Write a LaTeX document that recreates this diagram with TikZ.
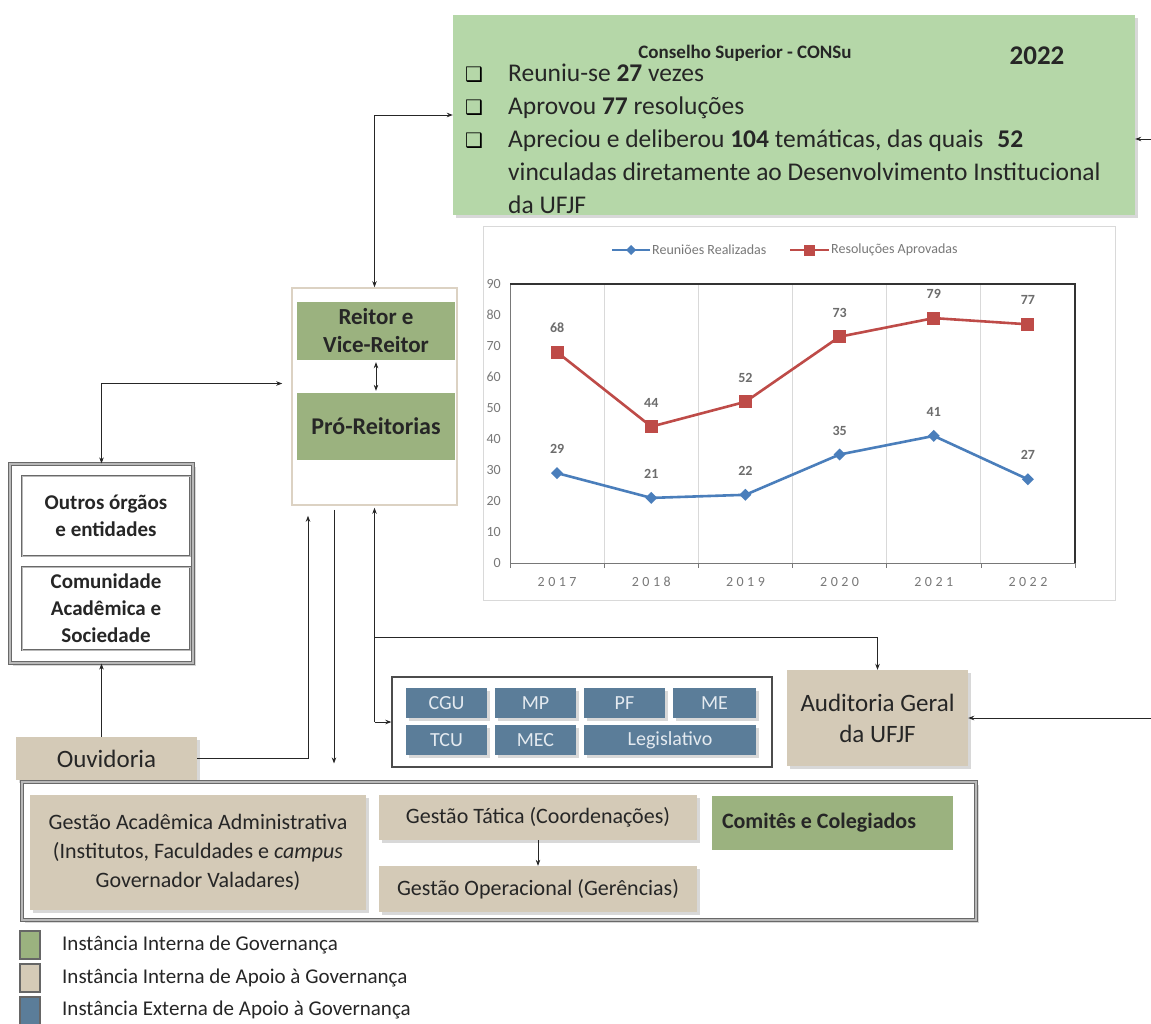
\documentclass[tikz,border=0pt]{standalone}
\usepackage{fontspec}
\setmainfont{Carlito}
\newfontfamily\dejavu{DejaVu Sans}
\newfontfamily\spaced{Carlito}[LetterSpace=25]
\usetikzlibrary{arrows.meta,fit,shadows}
\definecolor{consu}{RGB}{181,215,168}
\definecolor{olive}{RGB}{155,178,127}
\definecolor{tanc}{RGB}{212,202,183}
\definecolor{extblue}{RGB}{91,125,153}
\definecolor{extext}{RGB}{228,234,240}
\definecolor{lineblue}{RGB}{74,126,187}
\definecolor{linered}{RGB}{190,75,72}
\definecolor{txt}{RGB}{38,38,38}
\definecolor{axgray}{RGB}{120,120,120}
\definecolor{gridgray}{RGB}{217,217,217}
\definecolor{framegray}{RGB}{105,105,105}
\definecolor{frameinner}{RGB}{185,185,185}
\definecolor{reitorframe}{RGB}{220,210,195}
\tikzset{
  bx/.style={inner sep=0pt, text=txt, align=center},
  shad/.style={drop shadow={shadow xshift=2.5pt, shadow yshift=-2.5pt, opacity=0.3}},
  consubox/.style={bx, fill=consu, shad},
  olivebox/.style={bx, fill=olive},
  tanbox/.style={bx, fill=tanc, shad},
  extbox/.style={bx, fill=extblue, shad},
  grayframe/.style={bx, draw=framegray, line width=1.2pt, double=frameinner, double distance=1.6pt, fill=white, shad},
  innerframe/.style={bx, draw=framegray, line width=0.9pt, double=frameinner, double distance=0.8pt, fill=white},
  arr/.style={-{Stealth[length=6pt,width=4.5pt]}, line width=0.8pt, draw=black!85},
  darr/.style={{Stealth[length=6pt,width=4.5pt]}-{Stealth[length=6pt,width=4.5pt]}, line width=0.8pt, draw=black!85},
  bodytxt/.style={inner sep=0pt, text=txt, anchor=base west, font=\fontsize{25.5}{30}\selectfont},
  chk/.style={inner sep=0pt, text=black, anchor=base west, font=\dejavu\fontsize{20}{22}\selectfont},
  ticklab/.style={inner sep=0pt, text=axgray, font=\fontsize{14}{16}\selectfont},
  datalab/.style={inner sep=0pt, text=axgray!90!black, font=\bfseries\fontsize{14}{16}\selectfont},
  legtxt/.style={inner sep=0pt, text=txt, anchor=west, font=\fontsize{21}{24}\selectfont},
  boldlab/.style={inner sep=0pt, text=txt, align=center, font=\bfseries\fontsize{21}{27}\selectfont},
  gestlab/.style={inner sep=0pt, text=txt, align=center, font=\fontsize{22}{29}\selectfont},
}
\begin{document}
\begin{tikzpicture}[x=1pt,y=-1pt]
\useasboundingbox[fill=white] (0,0) rectangle (1151,1023);

% ---------------- CONSu box
\node[consubox, fit={(453,15)(1135,215)}] (consu) {};
\node[inner sep=0pt, text=txt, font=\bfseries\fontsize{19}{22}\selectfont] (ctitle) at (745,53) {Conselho Superior - CONSu};
\node[inner sep=0pt, text=txt, font=\bfseries\fontsize{27}{30}\selectfont] (cyear) at (1037,56) {2022};
\node[chk] (cb1) at (465,81) {❑};
\node[chk] (cb2) at (465,114) {❑};
\node[chk] (cb3) at (465,147) {❑};
\node[bodytxt] (l1) at (508,81) {Reuniu-se \textbf{27} vezes};
\node[bodytxt] (l2) at (508,114) {Aprovou \textbf{77} resoluções};
\node[bodytxt] (l3) at (508,147) {Apreciou e deliberou \textbf{104} temáticas, das quais\hspace{14pt}\textbf{52}};
\node[bodytxt] (l4) at (508,180) {vinculadas diretamente ao Desenvolvimento Institucional};
\node[bodytxt] (l5) at (508,213) {da UFJF};
\coordinate (rin1) at (1151,139);
\draw[arr] (rin1) -- (consu.east |- rin1);

% ---------------- Chart
\draw[gridgray, fill=white, line width=0.8pt] (483,226) rectangle (1115,600);
% legend
\draw[lineblue, line width=2.2pt] (612,250) -- (650,250);
\fill[lineblue] (631,245) -- (636,250) -- (631,255) -- (626,250) -- cycle;
\node[inner sep=0pt, anchor=west, text=axgray, font=\fontsize{14}{16}\selectfont] (lg1) at (652,250) {Reuniões Realizadas};
\draw[linered, line width=2.2pt] (790,250) -- (829,250);
\fill[linered] (803.5,244.5) rectangle (814.5,255.5);
\node[inner sep=0pt, anchor=west, text=axgray, font=\fontsize{14}{16}\selectfont] (lg2) at (831,250) {Resoluções Aprovadas};
% grid
\foreach \gx in {604.2,698.3,792.5,886.7,980.8} {
  \draw[gridgray, line width=0.8pt] (\gx,284) -- (\gx,563);
  \draw[axgray, line width=0.6pt] (\gx,563) -- (\gx,568);
}
\draw[axgray, line width=0.6pt] (510,563) -- (510,568);
\draw[axgray, line width=0.6pt] (1075,563) -- (1075,568);
\draw[axgray, line width=0.8pt] (510,284) -- (510,563) -- (1075,563);
\draw[black!80, line width=1.6pt] (510,284) -- (1075,284) -- (1075,563);
% y ticks
\foreach \v in {0,10,...,90} {
  \node[ticklab, anchor=east] at (501,{563-3.1*\v}) {\v};
}
% x labels
\foreach \yr [count=\i from 0] in {2017,2018,2019,2020,2021,2022} {
  \node[ticklab, font=\spaced\fontsize{14}{16}\selectfont] at ({557.1+94.17*\i},582) {\yr};
}
% series
\draw[lineblue, line width=2.6pt, line join=round] (557.1,473.1) -- (651.3,497.9) -- (745.4,494.8) -- (839.6,454.5) -- (933.8,435.9) -- (1027.9,479.3);
\draw[linered, line width=2.6pt, line join=round] (557.1,352.2) -- (651.3,426.6) -- (745.4,401.8) -- (839.6,336.7) -- (933.8,318.1) -- (1027.9,324.3);
\foreach \px/\py/\lab in {557.1/473.1/29,651.3/497.9/21,745.4/494.8/22,839.6/454.5/35,933.8/435.9/41,1027.9/479.3/27} {
  \fill[lineblue] (\px,\py-6) -- (\px+6,\py) -- (\px,\py+6) -- (\px-6,\py) -- cycle;
  \node[datalab] at (\px,\py-24) {\lab};
}
\foreach \px/\py/\lab in {557.1/352.2/68,651.3/426.6/44,745.4/401.8/52,839.6/336.7/73,933.8/318.1/79,1027.9/324.3/77} {
  \fill[linered] (\px-6.5,\py-6.5) rectangle (\px+6.5,\py+6.5);
  \node[datalab] at (\px,\py-24) {\lab};
}

% ---------------- Reitor block
\node[bx, draw=reitorframe, line width=1.6pt, fill=white, fit={(292,288)(457,505)}] (reitor) {};
\node[olivebox, fit={(297,302)(455,360)}] (rvr) {};
\node[inner sep=0pt, text=txt, align=center, font=\bfseries\fontsize{23}{28}\selectfont] at (rvr.center) {Reitor e\\Vice-Reitor};
\node[olivebox, fit={(297,393)(455,460)}] (pro) {};
\node[inner sep=0pt, text=txt, font=\bfseries\fontsize{24}{28}\selectfont] at (pro.center) {Pró-Reitorias};
\draw[darr, line width=0.7pt] ([yshift=-2pt]rvr.south) -- ([yshift=2pt]pro.north);
\draw[darr] (consu.west) -| (reitor.north);

% ---------------- Left block
\node[grayframe, fit={(10,464)(193,663)}] (lframe) {};
\node[innerframe, fit={(22,476)(190,556)}] (outros) {};
\node[boldlab] at (outros.center) {Outros órgãos\\e entidades};
\node[innerframe, fit={(22,567)(190,650)}] (comun) {};
\node[boldlab] at (comun.center) {Comunidade\\Acadêmica e\\Sociedade};
\draw[darr] (lframe.north) |- ([xshift=-9pt, yshift=13pt]reitor.west);

% ---------------- Ouvidoria
\node[tanbox, fit={(16,737)(197,780)}] (ouv) {};
\node[inner sep=0pt, text=txt, font=\fontsize{25}{28}\selectfont] at (ouv.center) {Ouvidoria};
\draw[arr] (lframe.south |- ouv.north) -- (lframe.south);
\draw[arr] (ouv.east) -| ([xshift=-66.5pt, yshift=-10pt]reitor.south);

% ---------------- External block
\node[bx, draw=black!70, line width=1.4pt, fill=white, fit={(392,677)(772,767)}] (ext) {};
\node[extbox, fit={(406,688)(487,718)}] (cgu) {};
\node[extbox, fit={(495,688)(576,718)}] (mp) {};
\node[extbox, fit={(584,688)(665,718)}] (pf) {};
\node[extbox, fit={(673,688)(756,718)}] (me) {};
\node[extbox, fit={(406,725)(487,755)}] (tcu) {};
\node[extbox, fit={(495,725)(576,755)}] (mec) {};
\node[extbox, fit={(584,725)(756,755)}] (leg) {};
\foreach \n/\t in {cgu/CGU,mp/MP,pf/PF,me/ME,tcu/TCU,mec/MEC,leg/Legislativo} {
  \node[inner sep=0pt, text=extext, font=\fontsize{20}{22}\selectfont] at (\n.center) {\t};
}

% ---------------- Auditoria
\node[tanbox, fit={(787,670)(968,766)}] (aud) {};
\node[inner sep=0pt, text=txt, align=center, font=\fontsize{25}{31}\selectfont] at (aud.center) {Auditoria Geral\\da UFJF};
\coordinate (rin2) at (1151,718);
\draw[arr] (rin2) -- (aud.east |- rin2);

% connectors from Reitor bottom
\coordinate (jn) at (reitor.south |- 0,637);
\draw[arr] (reitor.south |- ext.west) -- ([yshift=-2pt]reitor.south);
\draw[arr] (reitor.south |- ext.west) -- (ext.west);
\draw[arr] (jn) -| (aud.north);

% ---------------- Bottom block
\node[grayframe, fit={(22,782)(976,920)}] (gframe) {};
\draw[arr] ([xshift=-40.5pt, yshift=-4pt]reitor.south) -- ([xshift=-40.5pt]reitor.south |- gframe.north) [shorten >=18pt];
\node[tanbox, fit={(30,795)(366,910)}] (ga) {};
\node[gestlab] at (ga.center) {Gestão Acadêmica Administrativa\\(Institutos, Faculdades e \textit{campus}\\Governador Valadares)};
\node[tanbox, fit={(379,795)(697,840)}] (gt) {};
\node[gestlab] at (gt.center) {Gestão Tática (Coordenações)};
\node[tanbox, fit={(379,866)(697,912)}] (go) {};
\node[gestlab] at (go.center) {Gestão Operacional (Gerências)};
\draw[arr, line width=0.7pt] (gt.south -| 538,0) -- (go.north -| 538,0);
\node[olivebox, fit={(712,796)(953,850)}] (cc) {};
\node[inner sep=0pt, text=txt, anchor=west, font=\bfseries\fontsize{22}{26}\selectfont] at ([xshift=10pt]cc.west) {Comitês e Colegiados};

% ---------------- Legend
\node[bx, draw=black!60, line width=1.2pt, fill=olive, fit={(20,931)(40,959)}] (lgg) {};
\node[bx, draw=black!60, line width=1.2pt, fill=tanc, fit={(20,964)(40,992)}] (lgt) {};
\node[bx, draw=black!60, line width=1.2pt, fill=extblue, fit={(20,997)(40,1026)}] (lgb) {};
\node[legtxt] at (62,945) {Instância Interna de Governança};
\node[legtxt] at (62,978) {Instância Interna de Apoio à Governança};
\node[legtxt] at (62,1010) {Instância Externa de Apoio à Governança};
\end{tikzpicture}
\end{document}
